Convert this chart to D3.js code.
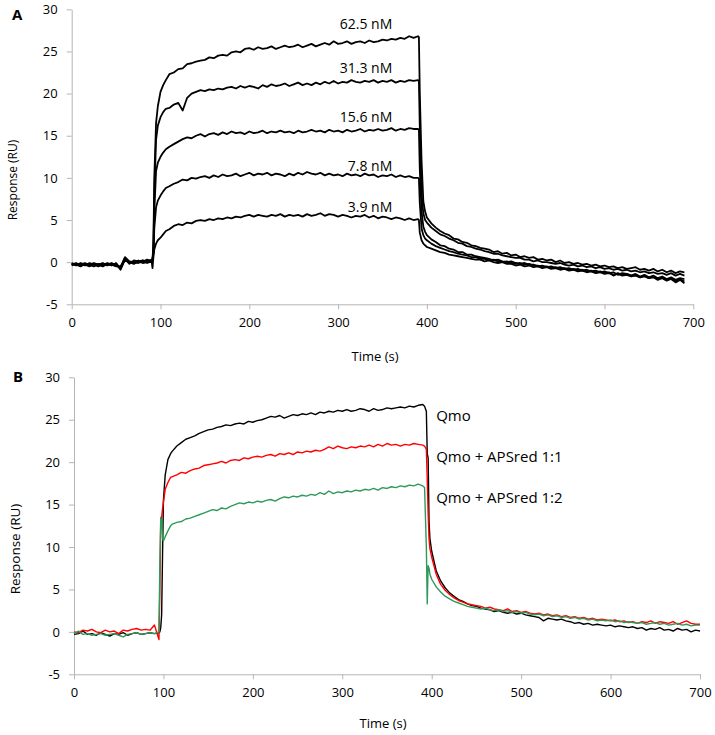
<!DOCTYPE html>
<html>
<head>
<meta charset="utf-8">
<script src="https://cdn.jsdelivr.net/npm/d3@7"></script>
<style>
  body { margin: 0; background: #fff; }
  svg text { font-family: "Open Sans", sans-serif; fill: #000; }
</style>
</head>
<body>
<div id="chart"></div>
<script>
// tick labels shared by both panels
var xTicks = [0, 100, 200, 300, 400, 500, 600, 700];
var yTicks = [-5, 0, 5, 10, 15, 20, 25, 30];

// ---- panel A: concentration series (time in s, response in RU) ----
var timeA = [0,5,10,15,20,25,30,35,40,45,50,55,60,65,70,75,80,85,90,
  91,92,93,95,97, 100,103,106,
  110,115,120,125,130,135,140,145,150,155,160,165,170,175,180,185,190,195,200,205,210,215,220,225,230,235,240,245,250,
  255,260,265,270,275,280,285,290,295,300,305,310,315,320,325,330,335,340,345,350,355,360,365,370,375,380,385,390,
  391,392,394,396,398,
  400,405,410,415,420,425,430,435,440,445,450,455,460,465,470,475,480,485,490,495,500,505,510,515,520,525,530,535,540,
  545,550,555,560,565,570,575,580,585,590,595,600,605,610,615,620,625,630,635,640,645,650,655,660,665,670,675,680,685,690];

var concLabels = ['62.5 nM', '31.3 nM', '15.6 nM', '7.8 nM', '3.9 nM'];

var resp625 = [-0.1,-0.3,-0.2,-0.4,-0.1,-0.3,-0.5,-0.2,-0.3,-0.1,-0.4,-0.7,0.5,-0.1,0.1,0.0,0.2,0.1,0.3,
  0.4,2,10,16.5,18.5, 20.2,21.0,21.6,
  22.3,22.5,22.9,23.0,23.5,23.6,23.8,23.9,24.0,24.3,24.2,24.5,24.6,24.5,24.9,25.0,24.9,25.3,25.4,25.2,25.5,25.3,25.4,25.6,25.3,25.5,25.7,25.5,25.6,
  25.8,25.5,25.7,25.9,25.6,25.8,26.0,25.8,26.2,25.9,26.0,26.2,25.9,26.1,26.2,26.0,26.3,26.1,26.2,26.4,26.3,26.5,26.4,26.6,26.5,26.8,26.6,26.8,
  26.7,20,12,7.2,6.0,
  5.3,4.6,4.1,3.7,3.4,3.2,2.8,2.7,2.4,2.3,2.0,1.9,1.7,1.6,1.5,1.2,1.3,1.0,1.1,0.8,0.9,0.6,0.7,0.5,0.6,0.3,0.4,0.2,0.3,
  0.0,0.2,-0.1,0.0,-0.2,-0.1,-0.3,-0.2,-0.4,-0.3,-0.5,-0.4,-0.6,-0.5,-0.7,-0.6,-0.8,-0.7,-0.6,-0.9,-0.8,-1.0,-0.8,-1.1,-0.9,-1.2,-1.0,-1.3,-1.1,-1.2];

var resp313 = [-0.3,-0.1,-0.4,-0.2,-0.3,-0.5,-0.2,-0.4,-0.1,-0.3,-0.2,-0.9,0.3,0.0,-0.1,0.2,0.0,0.3,0.1,
  0.3,1.5,8,14.5,16.2, 17.2,17.8,18.2,
  18.3,18.7,18.9,18.0,19.5,20.0,20.2,20.4,20.3,20.5,20.4,20.6,20.5,20.7,20.8,20.6,20.9,20.7,20.9,20.8,20.6,21.0,20.8,21.1,20.9,21.0,21.2,20.9,21.1,
  21.3,21.0,21.2,21.0,21.3,21.1,21.4,21.2,21.5,21.2,21.4,21.3,21.6,21.4,21.3,21.5,21.4,21.6,21.3,21.5,21.4,21.6,21.3,21.5,21.4,21.6,21.5,21.6,
  21.5,16,8,5.8,5.0,
  4.7,4.1,3.7,3.3,3.1,2.8,2.6,2.3,2.2,1.9,1.8,1.6,1.5,1.3,1.2,1.0,1.0,0.8,0.7,0.6,0.5,0.5,0.3,0.3,0.1,0.2,0.0,0.0,-0.1,
  -0.2,-0.1,-0.3,-0.4,-0.3,-0.5,-0.4,-0.6,-0.5,-0.7,-0.6,-0.8,-0.7,-0.9,-0.8,-1.0,-0.9,-1.1,-1.0,-1.2,-1.1,-1.3,-1.2,-1.4,-1.3,-1.5,-1.3,-1.6,-1.4,-1.6];

var resp156 = [-0.2,-0.4,-0.1,-0.3,-0.5,-0.2,-0.3,-0.1,-0.4,-0.2,-0.3,-0.6,0.6,0.1,0.0,-0.1,0.1,0.2,0.0,
  0.3,1.2,6,10.8,11.8, 12.5,13.0,13.4,
  13.7,14.0,14.3,14.6,14.8,14.7,15.0,15.2,14.9,15.2,15.3,15.1,15.4,15.2,15.5,15.3,15.4,15.2,15.5,15.3,15.4,15.6,15.3,15.5,15.4,15.6,15.4,15.5,15.3,
  15.6,15.4,15.5,15.7,15.5,15.6,15.4,15.7,15.5,15.6,15.4,15.7,15.5,15.6,15.8,15.5,15.7,15.6,15.8,15.6,15.7,15.9,15.6,15.8,15.7,15.9,15.8,15.8,
  15.7,11,6,4.2,3.6,
  3.2,2.7,2.4,2.0,1.9,1.6,1.5,1.2,1.2,0.9,0.9,0.7,0.6,0.5,0.4,0.2,0.3,0.1,0.0,0.1,-0.1,-0.2,-0.1,-0.3,-0.3,-0.5,-0.4,-0.6,-0.5,
  -0.7,-0.6,-0.8,-0.7,-0.9,-0.8,-1.0,-0.9,-1.1,-1.0,-1.2,-1.1,-1.3,-1.2,-1.5,-1.3,-1.4,-1.6,-1.4,-1.7,-1.5,-1.8,-1.6,-1.9,-1.7,-2.0,-1.8,-2.1,-1.9,-2.0];

var resp78 = [-0.4,-0.2,-0.3,-0.1,-0.4,-0.2,-0.4,-0.3,-0.2,-0.4,-0.1,-0.8,0.4,-0.2,0.2,0.1,-0.1,0.0,0.2,
  0.3,1.0,4,6.5,7.3, 7.9,8.4,8.8,
  9.0,9.3,9.5,9.8,9.7,10.0,9.9,10.1,10.2,10.0,10.3,10.1,10.4,10.2,10.3,10.5,10.2,10.4,10.6,10.3,10.5,10.4,10.6,10.3,10.5,10.4,10.2,10.5,10.3,
  10.6,10.4,10.7,10.5,10.4,10.6,10.3,10.5,10.3,10.4,10.2,10.5,10.3,10.4,10.2,10.5,10.3,10.4,10.1,10.3,10.2,10.4,10.1,10.3,10.1,10.2,10.0,10.0,
  9.9,7,4,3.2,2.8,
  2.6,2.2,1.9,1.7,1.5,1.3,1.2,1.0,0.9,0.8,0.6,0.6,0.4,0.4,0.2,0.3,0.1,0.0,0.1,-0.1,-0.2,-0.1,-0.3,-0.2,-0.4,-0.4,-0.6,-0.5,-0.7,
  -0.6,-0.8,-0.7,-0.9,-0.8,-1.0,-0.9,-1.1,-1.0,-1.2,-1.1,-1.3,-1.2,-1.6,-1.3,-1.5,-1.4,-1.6,-1.5,-1.8,-1.6,-1.9,-1.7,-2.0,-1.8,-2.1,-1.9,-2.2,-2.0,-2.3];

var resp39 = [-0.2,-0.3,-0.5,-0.2,-0.3,-0.1,-0.3,-0.5,-0.2,-0.3,-0.5,-0.5,0.2,0.0,-0.2,0.1,0.2,-0.1,0.1,
  -0.7,0.6,1.5,2.2,2.6, 2.9,3.3,3.7,
  3.9,4.3,4.5,4.4,4.7,4.6,4.9,5.0,4.9,5.1,5.0,5.2,5.1,5.3,5.2,5.4,5.3,5.5,5.6,5.4,5.6,5.5,5.4,5.6,5.5,5.7,5.4,5.6,5.5,
  5.6,5.4,5.7,5.5,5.6,5.8,5.5,5.7,5.6,5.4,5.6,5.5,5.3,5.5,5.4,5.6,5.3,5.5,5.2,5.4,5.3,5.1,5.3,5.2,5.0,5.2,5.0,5.1,
  5.0,3.5,2.6,2.2,2.0,
  1.8,1.6,1.4,1.2,1.1,0.9,0.8,0.7,0.6,0.5,0.4,0.3,0.3,0.1,0.2,0.0,-0.1,0.0,-0.2,-0.2,-0.4,-0.3,-0.5,-0.4,-0.6,-0.5,-0.7,-0.6,-0.8,
  -0.7,-0.9,-0.8,-1.0,-0.9,-1.1,-1.0,-1.2,-1.1,-1.3,-1.2,-1.4,-1.3,-1.5,-1.4,-1.6,-1.5,-1.7,-1.6,-1.8,-1.7,-1.9,-1.8,-2.1,-1.9,-2.2,-2.0,-2.4,-2.1,-2.5];

// ---- panel B: Qmo with / without APSred ----
var timeB = [0,5,10,15,20,25,30,35,40,45,50,55,60,65,70,75,80,85,90,95,
  96,97,98,99, 100,102,105,108,
  110,115,120,125,130,135,140,145,150,155,160,165,170,175,180,185,190,195,200,205,210,215,220,225,230,235,240,245,250,
  255,260,265,270,275,280,285,290,295,300,305,310,315,320,325,330,335,340,345,350,355,360,365,370,375,380,385,390,
  392,394,395,396,397,398,
  400,405,410,415,420,425,430,435,440,445,450,455,460,465,470,475,480,485,490,495,500,505,510,515,520,525,530,535,540,
  545,550,555,560,565,570,575,580,585,590,595,600,605,610,615,620,625,630,635,640,645,650,655,660,665,670,675,680,685,690,695,700];

var mixLabels = ['Qmo', 'Qmo + APSred 1:1', 'Qmo + APSred 1:2'];
var mixColors = ['#000000', '#ff0000', '#2e9a5a'];

var qmo = [-0.3,-0.2,0.1,-0.3,-0.2,-0.4,-0.1,-0.3,-0.5,-0.2,-0.3,-0.1,-0.4,-0.2,-0.1,-0.3,-0.2,-0.1,-0.2,-0.1,
  0.0,0.5,2.0,9.0, 15.5,18.5,20.3,21.0,
  21.3,21.9,22.3,22.7,22.9,23.1,23.4,23.6,23.8,23.9,24.1,24.2,24.4,24.3,24.5,24.6,24.5,24.8,24.7,24.9,25.0,25.2,25.4,25.3,25.5,25.2,25.4,25.6,25.5,
  25.7,25.6,25.8,25.6,25.9,25.8,26.0,25.9,26.1,26.0,26.2,26.0,26.1,26.3,26.2,26.0,26.3,26.1,26.2,26.4,26.3,26.4,26.5,26.4,26.6,26.5,26.7,26.8,
  26.6,26.0,21.0,20.5,13.0,11.0,
  9.5,7.2,6.0,5.2,4.6,4.2,3.8,3.6,3.3,3.1,3.0,2.8,2.7,2.6,2.4,2.5,2.3,2.2,2.3,2.1,2.2,2.0,1.9,1.8,1.7,1.3,1.6,1.5,1.4,
  1.5,1.3,1.2,1.0,1.1,0.9,1.0,0.8,0.9,0.8,0.7,0.8,0.6,0.7,0.6,0.5,0.6,0.4,0.5,0.2,0.4,0.3,0.5,0.2,0.3,0.1,0.4,0.2,0.3,0.0,0.2,0.1];

var qmoAps11 = [0.0,-0.1,0.2,0.1,0.3,0.0,-0.1,0.2,0.0,0.1,-0.2,0.2,0.1,0.3,0.4,0.2,0.3,0.2,0.8,-0.9,
  5.0,13.0,13.5,14.5, 15.3,16.8,17.6,18.2,
  18.3,18.5,18.8,18.7,19.0,19.2,19.3,19.6,19.7,19.8,19.9,20.1,19.9,20.2,20.3,20.2,20.5,20.4,20.6,20.7,20.6,20.8,20.9,20.7,21.0,20.9,21.1,20.9,21.2,
  21.1,21.3,21.2,21.4,21.3,21.5,21.8,21.6,21.9,21.7,21.6,21.8,21.7,21.9,21.8,22.0,21.8,22.1,21.9,22.2,22.0,22.1,21.9,22.1,22.0,22.2,22.1,22.0,
  21.9,21.5,18,14,11,9.8,
  8.8,6.8,5.6,4.9,4.4,4.0,3.7,3.5,3.3,3.2,3.1,3.0,2.8,2.9,2.7,2.6,2.5,2.7,2.4,2.5,2.3,2.4,2.2,2.1,2.2,2.0,2.1,1.9,2.0,
  1.8,1.9,1.7,1.8,1.6,1.7,1.5,1.6,1.4,1.5,1.4,1.3,1.4,1.2,1.3,1.1,1.2,1.0,1.2,1.1,1.3,1.0,1.2,1.1,1.0,1.2,0.9,1.1,1.3,1.0,0.9,0.9];

var qmoAps12 = [-0.2,0.1,-0.3,-0.2,-0.4,-0.3,-0.2,-0.4,-0.3,-0.2,-0.4,-0.6,-0.3,-0.2,-0.1,-0.3,-0.2,-0.1,-0.2,0.0,
  8.0,13.5,13.0,11.0, 10.7,11.2,11.9,12.5,
  12.7,12.9,13.0,13.3,13.4,13.6,13.8,14.0,14.2,14.4,14.3,14.6,14.5,14.8,15.0,15.2,15.1,15.3,15.2,15.4,15.3,15.5,15.6,15.4,15.7,15.9,15.8,16.0,15.9,
  16.1,16.0,16.2,16.1,16.4,16.2,16.6,16.3,16.5,16.4,16.6,16.5,16.7,16.6,16.8,16.7,16.9,16.7,17.0,16.9,17.1,17.0,17.2,17.1,17.3,17.2,17.4,17.2,
  17.0,10.0,3.3,7.8,7.5,6.8,
  6.2,5.3,4.7,4.2,3.9,3.6,3.4,3.2,3.0,2.9,2.8,2.7,2.8,2.6,2.5,2.6,2.4,2.5,2.3,2.4,2.2,2.3,2.1,2.0,2.1,1.9,2.0,1.8,1.9,
  1.7,1.8,1.6,1.7,1.5,1.6,1.4,1.5,1.3,1.4,1.3,1.4,1.2,1.3,1.1,1.2,1.1,1.0,1.1,0.9,1.0,1.1,0.9,1.0,0.8,0.9,1.0,0.8,0.9,0.7,0.8,0.8];

var width = 715, height = 735;
var axisGrey = '#b5b5b5';

var svg = d3.select('#chart').append('svg')
  .attr('width', width)
  .attr('height', height);

function drawPanel(cfg) {
  var x = d3.scaleLinear().domain([0, 700]).range([cfg.left, cfg.right]);
  var y = d3.scaleLinear().domain([-5, 30]).range([cfg.bottom, cfg.top]);
  var g = svg.append('g');

  // plain hyphen for negatives, like the original
  var fmt = function (d) { return String(d); };
  var yAxis = d3.axisLeft(y).tickValues(yTicks).tickFormat(fmt)
    .tickSizeInner(5).tickSizeOuter(0).tickPadding(9);
  var xAxis = d3.axisBottom(x).tickValues(xTicks).tickFormat(fmt)
    .tickSizeInner(5).tickSizeOuter(0).tickPadding(8);

  var gy = g.append('g').attr('transform', 'translate(' + cfg.left + ',0)').call(yAxis);
  var gx = g.append('g').attr('transform', 'translate(0,' + cfg.bottom + ')').call(xAxis);
  [gx, gy].forEach(function (a) {
    a.selectAll('path, line').attr('stroke', axisGrey);
    a.selectAll('text').attr('font-size', 13).attr('fill', '#000');
  });

  // traces
  var line = d3.line()
    .x(function (d) { return x(d[0]); })
    .y(function (d) { return y(d[1]); });
  cfg.series.forEach(function (s, i) {
    var pts = d3.zip(cfg.times, s);
    g.append('path')
      .attr('d', line(pts))
      .attr('fill', 'none')
      .attr('stroke', cfg.colors[i])
      .attr('stroke-width', cfg.lineWidth)
      .attr('stroke-linejoin', 'round');
  });

  // curve labels, placed off each trace's value at end of injection
  cfg.labels.forEach(function (lab, i) {
    var s = cfg.series[i];
    var v = s[cfg.times.indexOf(390)];
    g.append('text')
      .attr('x', x(cfg.labelTime))
      .attr('y', y(v) + cfg.labelDy)
      .attr('text-anchor', cfg.labelAnchor)
      .attr('font-size', cfg.labelSize)
      .text(lab);
  });

  // axis titles + panel letter
  g.append('text')
    .attr('transform', 'translate(' + cfg.yTitleX + ',' + cfg.yTitleY + ') rotate(-90)')
    .attr('text-anchor', 'middle')
    .attr('font-size', cfg.yTitleSize)
    .text('Response (RU)');
  g.append('text')
    .attr('x', cfg.xTitleX)
    .attr('y', cfg.xTitleY)
    .attr('text-anchor', 'middle')
    .attr('font-size', 13)
    .text('Time (s)');
  g.append('text')
    .attr('x', cfg.letterX)
    .attr('y', cfg.letterY)
    .attr('font-size', 15)
    .attr('font-weight', 'bold')
    .text(cfg.letter);
}

drawPanel({
  letter: 'A', letterX: 12, letterY: 20,
  left: 71.7, right: 693.3, top: 9.3, bottom: 304.3,
  times: timeA,
  series: [resp625, resp313, resp156, resp78, resp39],
  colors: ['#000', '#000', '#000', '#000', '#000'],
  lineWidth: 1.8,
  labels: concLabels,
  labelTime: 361, labelDy: -7, labelAnchor: 'end', labelSize: 14,
  yTitleX: 17, yTitleY: 180, yTitleSize: 12,
  xTitleX: 375, xTitleY: 361
});

drawPanel({
  letter: 'B', letterX: 13, letterY: 382,
  left: 74, right: 700, top: 377.3, bottom: 674.3,
  times: timeB,
  series: [qmo, qmoAps11, qmoAps12],
  colors: mixColors,
  lineWidth: 1.4,
  labels: mixLabels,
  labelTime: 405, labelDy: 17, labelAnchor: 'start', labelSize: 15,
  yTitleX: 20, yTitleY: 549, yTitleSize: 13.5,
  xTitleX: 383, xTitleY: 728
});
</script>
</body>
</html>
